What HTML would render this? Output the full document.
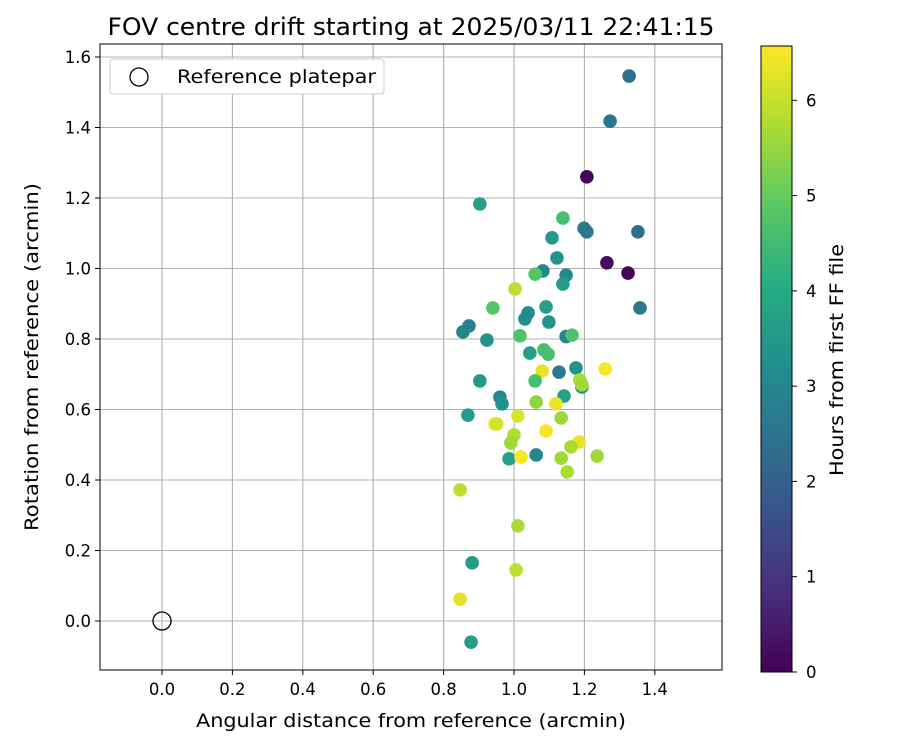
<!DOCTYPE html>
<html><head><meta charset="utf-8"><style>
body{margin:0;background:#fff;font-family:"Liberation Sans","DejaVu Sans",sans-serif}
svg text{font-family:"DejaVu Sans","Liberation Sans",sans-serif;fill:#000}
</style></head><body>
<svg id="c" width="900" height="750" xmlns="http://www.w3.org/2000/svg">
<defs><linearGradient id="vir" x1="0" y1="1" x2="0" y2="0">
<stop offset="0" stop-color="#440154"/><stop offset="0.125" stop-color="#472d7b"/><stop offset="0.25" stop-color="#3b528b"/><stop offset="0.375" stop-color="#2c728e"/><stop offset="0.5" stop-color="#21918c"/><stop offset="0.625" stop-color="#28ae80"/><stop offset="0.75" stop-color="#5ec962"/><stop offset="0.875" stop-color="#addc30"/><stop offset="1" stop-color="#fde725"/></linearGradient></defs>
<text x="411" y="35" font-size="24" text-anchor="middle" textLength="607" lengthAdjust="spacingAndGlyphs">FOV centre drift starting at 2025/03/11 22:41:15</text>
<g id="grid"></g><g id="pts"></g>
<rect x="100" y="44" width="622" height="626" fill="none" stroke="#000" stroke-width="1"/>
<g id="axes"></g>
<text x="411" y="727" font-size="19" text-anchor="middle" textLength="430" lengthAdjust="spacingAndGlyphs">Angular distance from reference (arcmin)</text>
<text transform="translate(38,357) rotate(-90)" font-size="19" text-anchor="middle" textLength="348" lengthAdjust="spacingAndGlyphs">Rotation from reference (arcmin)</text>
<g>
<rect x="110" y="59" width="274" height="35" rx="3" fill="#fff" stroke="#ccc"/>
<circle cx="139" cy="77" r="9" fill="none" stroke="#000" stroke-width="1.3"/>
<text x="177" y="83" font-size="19" textLength="199" lengthAdjust="spacingAndGlyphs">Reference platepar</text></g>
<rect x="761" y="46" width="31" height="626" fill="url(#vir)" stroke="#000" stroke-width="1"/>
<g id="cb"></g>
<text transform="translate(843,360) rotate(-90)" font-size="19" text-anchor="middle" textLength="232" lengthAdjust="spacingAndGlyphs">Hours from first FF file</text>
</svg>
<script>
const xVals=[1.327,1.273,1.207,0.903,1.139,1.199,1.207,1.352,1.108,1.122,1.264,1.324,1.082,1.060,1.148,1.139,1.003,1.358,0.940,1.091,1.040,1.031,1.099,0.872,0.855,0.923,1.017,1.148,1.165,1.045,1.085,1.097,1.080,1.128,1.176,1.259,1.187,1.193,1.193,1.060,0.903,0.960,0.966,1.142,1.063,1.119,0.869,1.011,1.134,0.946,0.951,1.091,1.000,0.991,1.185,1.162,0.986,1.020,1.063,1.134,1.236,1.151,0.847,1.011,0.881,1.006,0.847,0.878];
const yVals=[1.546,1.418,1.260,1.183,1.143,1.114,1.104,1.104,1.087,1.030,1.016,0.987,0.993,0.984,0.981,0.956,0.942,0.888,0.888,0.891,0.874,0.857,0.848,0.837,0.820,0.797,0.809,0.807,0.811,0.760,0.769,0.757,0.709,0.706,0.718,0.715,0.684,0.664,0.670,0.681,0.681,0.635,0.616,0.638,0.621,0.616,0.584,0.582,0.576,0.559,0.559,0.539,0.528,0.505,0.508,0.494,0.460,0.465,0.471,0.462,0.468,0.423,0.372,0.270,0.165,0.145,0.062,-0.060];
const hours=[2.4,2.5,0.1,3.7,4.6,2.8,2.6,2.4,3.5,3.3,0.2,0.1,3.1,4.8,3.1,3.6,5.9,2.6,4.8,3.7,3.1,3.2,3.4,2.9,2.9,3.3,4.7,3.0,4.7,3.7,4.6,4.6,6.3,2.6,3.3,6.5,5.7,3.2,5.6,4.6,3.5,3.0,3.3,3.7,5.4,6.4,3.6,6.2,5.6,6.5,6.2,6.5,5.8,5.6,6.4,5.7,3.7,6.5,3.0,5.6,5.6,5.7,5.9,5.7,3.6,5.9,6.3,3.6];
const xTicks=[0,0.2,0.4,0.6,0.8,1.0,1.2,1.4];
const yTicks=[0,0.2,0.4,0.6,0.8,1.0,1.2,1.4,1.6];
const cTicks=[0,1,2,3,4,5,6];
const NS="http://www.w3.org/2000/svg";
const X=v=>162+v*352, Y=v=>621-v*352.5, H_MAX=6.57, C=v=>672-v/H_MAX*626;
const vir=[[68,1,84],[71,45,123],[59,82,139],[44,114,142],[33,145,140],[40,174,128],[94,201,98],[173,220,48],[253,231,37]];
function col(h){let t=Math.max(0,Math.min(1,h/H_MAX))*8,i=Math.min(7,Math.floor(t)),f=t-i;const a=vir[i],b=vir[i+1];return`rgb(${a.map((v,k)=>Math.round(v+(b[k]-v)*f)).join(',')})`;}
function mk(tag,at,p){const e=document.createElementNS(NS,tag);for(const k in at)e.setAttribute(k,at[k]);p.appendChild(e);return e;}
const g=document.getElementById('grid'),ax=document.getElementById('axes'),pts=document.getElementById('pts'),cb=document.getElementById('cb');
xTicks.forEach(t=>{const x=X(t);
 const l=mk('line',{x1:x,x2:x,y1:44,y2:670,stroke:'#b0b0b0','stroke-width':1.1},g);
 const tk=mk('line',{x1:x,x2:x,y1:670,y2:675,stroke:'#000'},ax);
 const tx=mk('text',{x:x,y:695,'font-size':16.5,'text-anchor':'middle'},ax);tx.textContent=t.toFixed(1);});
yTicks.forEach(t=>{const y=Y(t);
 const l=mk('line',{x1:100,x2:722,y1:y,y2:y,stroke:'#b0b0b0','stroke-width':1.1},g);
 const tk=mk('line',{x1:95,x2:100,y1:y,y2:y,stroke:'#000'},ax);
 const tx=mk('text',{x:91,y:y+6,'font-size':16.5,'text-anchor':'end'},ax);tx.textContent=t.toFixed(1);});
xVals.forEach((v,i)=>{const c=mk('circle',{cx:X(v),cy:Y(yVals[i]),r:6.8,fill:col(hours[i])},pts);});
const ref=mk('circle',{cx:X(0),cy:Y(0),r:9,fill:'none',stroke:'#000','stroke-width':1.3},pts);
cTicks.forEach(t=>{const y=C(t);
 const tk=mk('line',{x1:792,x2:797,y1:y,y2:y,stroke:'#000'},cb);
 const tx=mk('text',{x:806,y:y+6,'font-size':16.5},cb);tx.textContent=t;});
</script></body></html>
